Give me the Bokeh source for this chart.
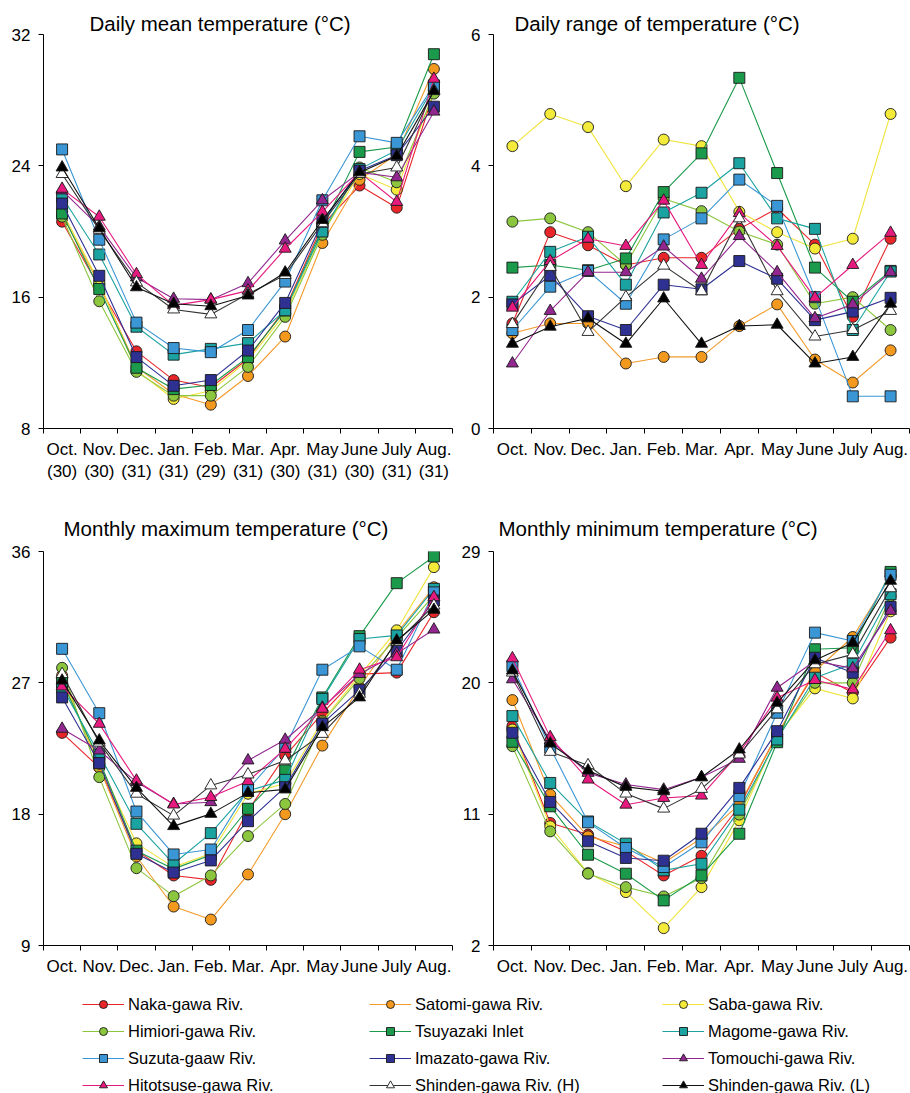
from bokeh.plotting import figure
from bokeh.layouts import column, row
from bokeh.models import FixedTicker, Legend, LegendItem, Range1d
from bokeh.embed import file_html
from bokeh.resources import INLINE

months = ["Oct.", "Nov.", "Dec.", "Jan.", "Feb.", "Mar.", "Apr.", "May", "June", "July", "Aug."]
days = ["(30)", "(30)", "(31)", "(31)", "(29)", "(31)", "(30)", "(31)", "(30)", "(31)", "(31)"]

sites = ["Naka-gawa Riv.", "Satomi-gawa Riv.", "Saba-gawa Riv.",
         "Himiori-gawa Riv.", "Tsuyazaki Inlet", "Magome-gawa Riv.",
         "Suzuta-gaaw Riv.", "Imazato-gawa Riv.", "Tomouchi-gawa Riv.",
         "Hitotsuse-gawa Riv.", "Shinden-gawa Riv. (H)", "Shinden-gawa Riv. (L)"]
line_colors = ["#e8262a", "#f39a2a", "#f0e43a", "#8cc63f", "#1a9a4a", "#1aa3a0",
               "#3a96d4", "#2e3192", "#92278f", "#e6197e", "#333333", "#111111"]
fill_colors = ["#e8262a", "#f39a1e", "#f3ea3a", "#8cc63f", "#1a9a4a", "#1aa3a0",
               "#3a96d4", "#2e3192", "#92278f", "#e6197e", "#ffffff", "#000000"]
markers = ["circle", "circle", "circle", "circle", "square", "square",
           "square", "square", "triangle", "triangle", "triangle", "triangle"]

# Daily mean temperature
naka_mean = [20.6, 16.6, 12.7, 10.95, 10.5, 12.25, 15.3, 20.4, 22.8, 21.45, 28.5]
satomi_mean = [21.0, 16.8, 11.75, 10.1, 9.45, 11.2, 13.6, 19.3, 23.15, 24.7, 29.9]
saba_mean = [21.2, 16.9, 11.55, 9.8, 10.3, 12.15, 15.0, 19.9, 23.5, 22.55, 28.5]
himiori_mean = [20.9, 15.75, 11.45, 10.0, 10.0, 11.75, 14.8, 19.8, 23.9, 23.0, 28.4]
tsuyazaki_mean = [21.1, 16.5, 11.7, 10.4, 10.65, 12.35, 15.2, 20.2, 24.85, 25.15, 30.8]
magome_mean = [22.1, 18.6, 14.2, 12.5, 12.85, 13.2, 15.2, 20.0, 23.8, 24.95, 28.8]
suzuta_mean = [25.0, 19.5, 14.45, 12.9, 12.65, 14.0, 16.95, 21.9, 25.8, 25.4, 28.9]
imazato_mean = [21.7, 17.3, 12.35, 10.6, 10.95, 12.75, 15.65, 20.6, 23.7, 24.65, 27.6]
tomouchi_mean = [22.5, 20.3, 17.2, 15.9, 15.85, 16.85, 19.45, 21.9, 23.6, 23.3, 27.3]
hitotsuse_mean = [22.6, 20.9, 17.4, 15.5, 15.85, 16.4, 18.95, 21.2, 23.6, 21.8, 29.3]
shinden_h_mean = [23.5, 20.1, 16.9, 15.25, 14.95, 16.2, 17.35, 20.5, 23.5, 23.9, 28.6]
shinden_l_mean = [23.9, 20.2, 16.6, 15.6, 15.45, 16.1, 17.5, 20.7, 23.6, 24.6, 28.55]

# Daily range of temperature
naka_range = [1.6, 2.99, 2.79, 2.49, 2.6, 2.6, 3.04, 3.35, 2.8, 1.7, 2.89]
satomi_range = [1.45, 1.6, 1.6, 0.99, 1.09, 1.09, 1.56, 1.89, 1.05, 0.7, 1.19]
saba_range = [4.3, 4.79, 4.59, 3.69, 4.4, 4.3, 3.3, 2.99, 2.74, 2.89, 4.79]
himiori_range = [3.15, 3.2, 2.99, 2.49, 3.5, 3.31, 3.0, 2.8, 1.9, 2.0, 1.5]
tsuyazaki_range = [2.45, 2.49, 2.41, 2.59, 3.6, 4.19, 5.34, 3.89, 2.45, 1.93, 2.4]
magome_range = [1.93, 2.69, 2.92, 2.19, 3.29, 3.59, 4.04, 3.2, 3.04, 1.5, 2.39]
suzuta_range = [1.5, 2.16, 2.4, 1.9, 2.88, 3.2, 3.79, 3.39, 2.0, 0.49, 0.49]
imazato_range = [1.89, 2.33, 1.71, 1.5, 2.19, 2.12, 2.55, 2.28, 1.65, 1.78, 1.99]
tomouchi_range = [0.99, 1.79, 2.38, 2.38, 2.77, 2.28, 2.93, 2.38, 1.68, 1.89, 2.38]
hitotsuse_range = [1.84, 2.55, 2.89, 2.78, 3.47, 2.49, 3.28, 2.78, 1.99, 2.49, 2.98]
shinden_h_range = [1.59, 2.46, 1.47, 2.0, 2.48, 2.09, 3.2, 2.09, 1.4, 1.5, 1.79]
shinden_l_range = [1.29, 1.55, 1.68, 1.29, 1.98, 1.29, 1.56, 1.58, 0.99, 1.09, 1.9]

# Monthly maximum temperature
naka_max = [23.57, 21.2, 15.5, 13.8, 13.5, 18.25, 22.0, 24.9, 27.6, 27.7, 31.84]
satomi_max = [27.5, 21.2, 15.1, 11.67, 10.78, 13.87, 18.0, 22.7, 26.7, 30.4, 33.55]
saba_max = [27.3, 21.45, 16.0, 14.37, 15.3, 19.4, 20.1, 24.4, 27.5, 30.6, 34.93]
himiori_max = [28.03, 20.54, 14.3, 12.38, 13.8, 16.5, 18.7, 24.3, 27.3, 30.1, 33.0]
tsuyazaki_max = [27.05, 21.7, 15.5, 14.25, 15.2, 18.37, 21.0, 26.0, 30.2, 33.83, 35.66]
magome_max = [26.7, 22.1, 17.34, 14.6, 16.7, 19.6, 20.35, 25.9, 30.0, 30.25, 33.44]
suzuta_max = [29.33, 24.92, 18.18, 15.24, 15.58, 19.7, 22.6, 27.9, 29.5, 27.9, 33.2]
imazato_max = [26.0, 21.5, 15.28, 14.0, 14.83, 17.52, 19.85, 24.2, 26.5, 29.2, 32.64]
tomouchi_max = [23.85, 22.36, 20.2, 18.7, 18.82, 21.68, 23.1, 25.3, 27.6, 29.0, 30.65]
hitotsuse_max = [26.75, 24.19, 20.3, 18.66, 19.17, 20.26, 22.48, 25.22, 27.9, 28.75, 32.87]
shinden_h_max = [27.6, 22.9, 19.4, 17.9, 19.97, 20.72, 21.68, 23.5, 26.25, 29.8, 32.3]
shinden_l_max = [27.15, 23.05, 19.8, 17.18, 18.02, 19.46, 19.7, 23.96, 26.0, 29.9, 32.0]

# Monthly minimum temperature
naka_min = [17.03, 10.4, 9.6, 8.45, 6.8, 8.15, 11.54, 16.46, 20.7, 19.32, 23.1]
satomi_min = [18.82, 12.34, 9.48, 8.8, 7.65, 9.36, 11.65, 16.46, 20.81, 23.14, 27.3]
saba_min = [16.8, 10.17, 6.96, 5.66, 3.19, 6.0, 10.58, 16.35, 19.62, 18.93, 24.9]
himiori_min = [15.66, 9.82, 6.92, 6.0, 5.36, 6.62, 10.97, 16.23, 20.0, 20.0, 25.95]
tsuyazaki_min = [15.96, 11.54, 8.22, 6.92, 5.09, 6.8, 9.66, 15.93, 22.3, 22.4, 27.6]
magome_min = [17.72, 13.14, 10.5, 8.98, 7.15, 7.6, 11.31, 16.12, 20.35, 21.31, 26.07]
suzuta_min = [21.15, 15.55, 10.44, 8.68, 7.38, 9.07, 12.23, 17.95, 23.44, 22.87, 27.4]
imazato_min = [16.58, 11.84, 9.14, 8.0, 7.81, 9.66, 12.8, 16.69, 21.72, 20.69, 25.2]
tomouchi_min = [20.24, 16.05, 13.83, 13.03, 12.68, 13.53, 14.79, 19.66, 21.5, 20.99, 24.93]
hitotsuse_min = [21.68, 16.28, 13.37, 11.65, 12.11, 12.27, 15.2, 18.98, 20.19, 19.55, 23.6]
shinden_h_min = [20.7, 15.27, 14.35, 12.41, 11.38, 12.73, 15.09, 18.18, 21.27, 21.95, 26.48]
shinden_l_min = [20.85, 15.84, 13.99, 12.87, 12.57, 13.53, 15.43, 18.63, 21.54, 22.75, 26.99]

mean_series = [naka_mean, satomi_mean, saba_mean, himiori_mean, tsuyazaki_mean, magome_mean,
               suzuta_mean, imazato_mean, tomouchi_mean, hitotsuse_mean, shinden_h_mean, shinden_l_mean]
range_series = [naka_range, satomi_range, saba_range, himiori_range, tsuyazaki_range, magome_range,
                suzuta_range, imazato_range, tomouchi_range, hitotsuse_range, shinden_h_range, shinden_l_range]
max_series = [naka_max, satomi_max, saba_max, himiori_max, tsuyazaki_max, magome_max,
              suzuta_max, imazato_max, tomouchi_max, hitotsuse_max, shinden_h_max, shinden_l_max]
min_series = [naka_min, satomi_min, saba_min, himiori_min, tsuyazaki_min, magome_min,
              suzuta_min, imazato_min, tomouchi_min, hitotsuse_min, shinden_h_min, shinden_l_min]

FONT = "Liberation Sans"
xpos = list(range(1, len(months) + 1))


def make_panel(title, series, ylo, yhi, yticks, width, height, left, right, top, bottom,
               title_offset, title_standoff, two_line):
    p = figure(width=width, height=height, x_range=Range1d(0.5, len(months) + 0.5),
               y_range=Range1d(ylo, yhi), output_backend="svg", toolbar_location=None,
               min_border_left=left, min_border_right=right, min_border_top=top,
               min_border_bottom=bottom, title=title)
    p.title.align = "left"
    p.title.offset = title_offset
    p.title.standoff = title_standoff
    p.title.text_font = FONT
    p.title.text_font_size = "20.5px"
    p.title.text_font_style = "normal"
    p.title.text_color = "#000000"
    p.outline_line_color = None
    p.xgrid.visible = False
    p.ygrid.visible = False
    p.background_fill_color = "white"
    p.border_fill_color = "white"

    if two_line:
        labels = {x: m + "\n" + d for x, m, d in zip(xpos, months, days)}
    else:
        labels = {x: m for x, m in zip(xpos, months)}
    xa = p.xaxis[0]
    xa.ticker = FixedTicker(ticks=xpos, minor_ticks=[x - 0.5 for x in xpos] + [len(months) + 0.5])
    xa.major_label_overrides = labels
    xa.major_tick_in = 0
    xa.major_tick_out = 0
    xa.minor_tick_in = 0
    xa.minor_tick_out = 5
    xa.minor_tick_line_color = "#000000"
    xa.axis_line_color = "#000000"
    xa.major_label_text_font = FONT
    xa.major_label_text_font_size = "17px"
    xa.major_label_text_color = "#000000"
    xa.major_label_standoff = 6

    ya = p.yaxis[0]
    ya.ticker = FixedTicker(ticks=yticks, minor_ticks=[])
    ya.major_tick_in = 0
    ya.major_tick_out = 5
    ya.minor_tick_out = 0
    ya.major_tick_line_color = "#000000"
    ya.axis_line_color = "#000000"
    ya.major_label_text_font = FONT
    ya.major_label_text_font_size = "17px"
    ya.major_label_text_color = "#000000"
    ya.major_label_standoff = 8

    for vals, lc, fc, mk in zip(series, line_colors, fill_colors, markers):
        p.line(xpos, vals, line_color=lc, line_width=1.1)
        sz = 12 if mk == "triangle" else 11
        p.scatter(xpos, vals, marker=mk, size=sz, fill_color=fc, line_color="#1a1a1a",
                  line_width=0.9)
    return p


p1 = make_panel("Daily mean temperature (\u00b0C)", mean_series, 8, 32, [8, 16, 24, 32],
                455, 490, 43, 3, 34, 62, 46, 0, True)
p2 = make_panel("Daily range of temperature (\u00b0C)", range_series, 0, 6, [0, 2, 4, 6],
                455, 490, 38, 1, 34, 62, 21, 0, False)
p3 = make_panel("Monthly maximum temperature (\u00b0C)", max_series, 9, 36, [9, 18, 27, 36],
                455, 495, 43, 3, 61, 40, 20, 24, False)
p4 = make_panel("Monthly minimum temperature (\u00b0C)", min_series, 2, 29, [2, 11, 20, 29],
                455, 495, 38, 1, 61, 40, 5, 24, False)

# Legend panel: the series are drawn out of view so only the legend shows
pl = figure(width=910, height=108, x_range=Range1d(100, 101), y_range=Range1d(100, 101),
            output_backend="svg", toolbar_location=None, min_border=0)
pl.axis.visible = False
pl.xgrid.visible = False
pl.ygrid.visible = False
pl.outline_line_color = None

items = []
for name, vals, lc, fc, mk in zip(sites, mean_series, line_colors, fill_colors, markers):
    lr = pl.line(xpos, vals, line_color=lc, line_width=1.1)
    sr = pl.scatter(xpos, vals, marker=mk, fill_color=fc, line_color="#1a1a1a", line_width=0.9)
    items.append(LegendItem(label=name, renderers=[lr, sr]))

col_x = [82, 369, 662]
for c in range(3):
    leg = Legend(items=[items[r * 3 + c] for r in range(4)], location=(col_x[c], -2),
                 orientation="vertical", glyph_width=42, glyph_height=20, label_height=20,
                 spacing=7, padding=0, margin=0, border_line_color=None,
                 background_fill_alpha=0, label_standoff=4,
                 label_text_font=FONT, label_text_font_size="16.5px",
                 label_text_color="#000000")
    pl.add_layout(leg)

layout = column(row(p1, p2, spacing=0), row(p3, p4, spacing=0), pl, spacing=0)
open("out.html", "w").write(file_html(layout, INLINE))
